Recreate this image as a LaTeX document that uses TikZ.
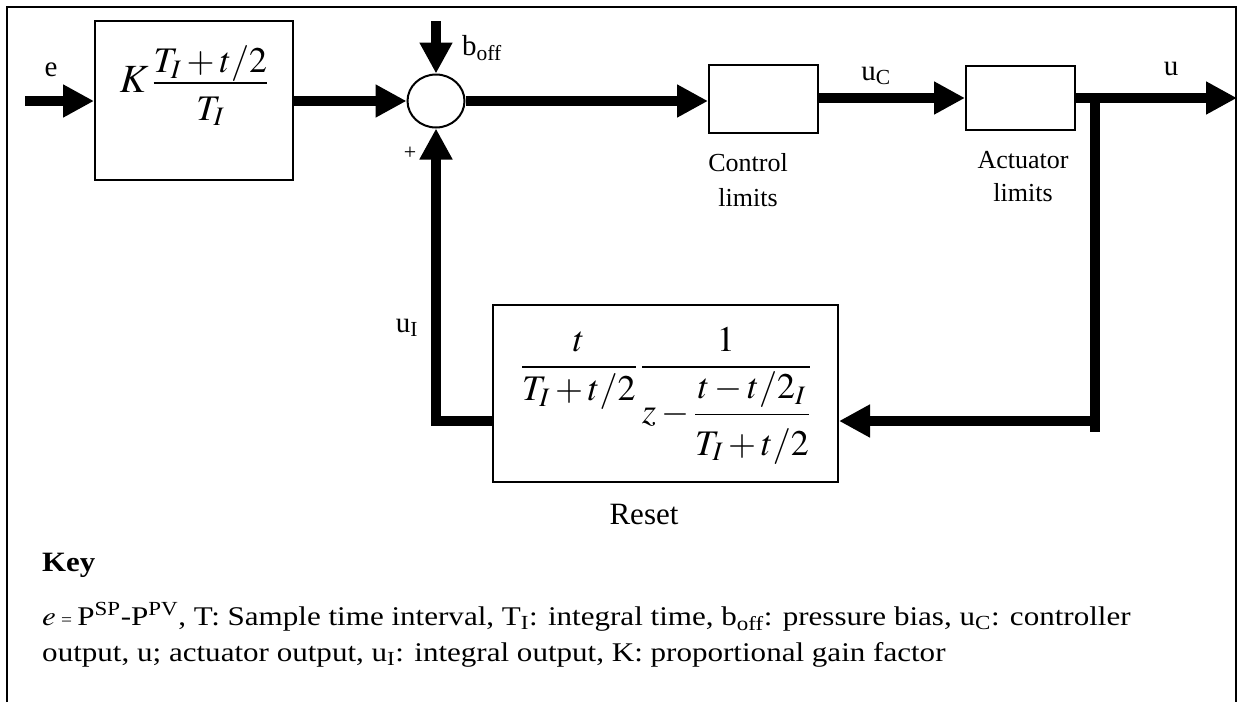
\documentclass[tikz,border=0pt]{standalone}
\usepackage{mathptmx}
\usepackage{fontspec}
\setmainfont{Liberation Serif}
\usetikzlibrary{arrows.meta,shapes.geometric}
\begin{document}
\begin{tikzpicture}[x=1pt,y=-1pt,
  sig/.style={line width=10pt, line join=miter, -{Triangle[length=31pt,width=31pt]}},
  wire/.style={line width=10pt},
  blk/.style={draw, line width=2pt, inner sep=0pt},
  lbl/.style={font=\fontsize{29}{32}\selectfont, inner sep=0pt},
  captxt/.style={align=center, inner sep=0pt},
  keytxt/.style={font=\fontsize{27}{30}\selectfont, inner sep=0pt, anchor=west, xscale=1.15},
  mth/.style={font=\fontsize{36}{42}\selectfont, inner sep=0pt, anchor=base}]
\useasboundingbox (0,0) rectangle (1242,702);
\draw[line width=2pt] (7,702) -- (7,7) -- (1236,7) -- (1236,702);

% blocks
\node[blk, minimum width=198pt, minimum height=159pt] (kb) at (194,100.5) {};
\node[mth] (kf) at (194,92) {{\fontsize{40}{42}\selectfont$K$}$\displaystyle\,\frac{\raisebox{-5pt}[0pt][0pt]{$\displaystyle T_I+t/2$}}{\rule{0pt}{0.9em}T_I}$};
\node[draw, ellipse, line width=2pt, minimum width=57pt, minimum height=53pt, inner sep=0pt] (sum) at (436,101) {};
\node[blk, minimum width=109pt, minimum height=68pt] (cl) at (763.5,99) {};
\node[blk, minimum width=109pt, minimum height=64pt] (al) at (1020.5,98) {};
\node[blk, minimum width=345pt, minimum height=177pt] (rb) at (665.5,393.5) {};
\node[mth] (rf) at (666,376) {$\displaystyle \frac{t}{T_I+t/2}\,\frac{1}{\rule{0pt}{1.25em}z-{\displaystyle\frac{t-t/2_I}{\rule{0pt}{1.0em}T_I+t/2}}}$};

% connectors
\coordinate (ein) at (25,101);
\coordinate (btop) at (436,21);
\coordinate (uout) at (1237,98);
\coordinate (br) at (1095,93);
\coordinate (brb) at (1095,432);
\coordinate (fb) at (1095,421);
\coordinate (fbl) at (437,421);
\draw[sig] (ein) -- (ein -| kb.west);
\draw[sig] (kb.east |- sum.west) -- (sum.west);
\draw[sig] (btop) -- (sum.north);
\draw[sig] (sum.east) -- (sum.east -| cl.west);
\draw[sig] (cl.east |- al.west) -- (al.west);
\draw[sig] (al.east) -- (uout);
\draw[wire] (br) -- (brb);
\draw[sig] (fb) -- (fb -| rb.east);
\draw[sig] (rb.west |- fbl) -| (sum.south);

% labels
\node[lbl] (le) at (51,70) {e};
\node[lbl, anchor=west] (lb) at (462,48) {b\textsubscript{off}};
\node[lbl, font=\fontsize{22}{26}\selectfont] (lp) at (410,153) {+};
\node[lbl] (luc) at (876,76) {u\textsubscript{C}};
\node[lbl] (lu) at (1171,69) {u};
\node[captxt, font=\fontsize{26}{35}\selectfont] (lcl) at (748,180) {Control\\limits};
\node[captxt, font=\fontsize{26}{33}\selectfont] (lal) at (1023,177) {Actuator\\limits};
\node[lbl] (lui) at (407,328) {u\textsubscript{I}};
\node[lbl, font=\fontsize{31}{34}\selectfont] (lr) at (644,514) {Reset};

% key
\node[lbl, anchor=west, font=\bfseries\fontsize{28}{30}\selectfont, xscale=1.1] (key) at (42,565) {Key};
\node[keytxt] (k1) at (42,617) {$e$\,{\fontsize{17}{17}\selectfont =}\,P\textsuperscript{SP}-P\textsuperscript{PV}, T: Sample time interval, T\textsubscript{I}: integral time, b\textsubscript{off}: pressure bias, u\textsubscript{C}: controller};
\node[keytxt] (k2) at (42,655) {output, u; actuator output, u\textsubscript{I}: integral output, K: proportional gain factor};
\end{tikzpicture}
\end{document}
